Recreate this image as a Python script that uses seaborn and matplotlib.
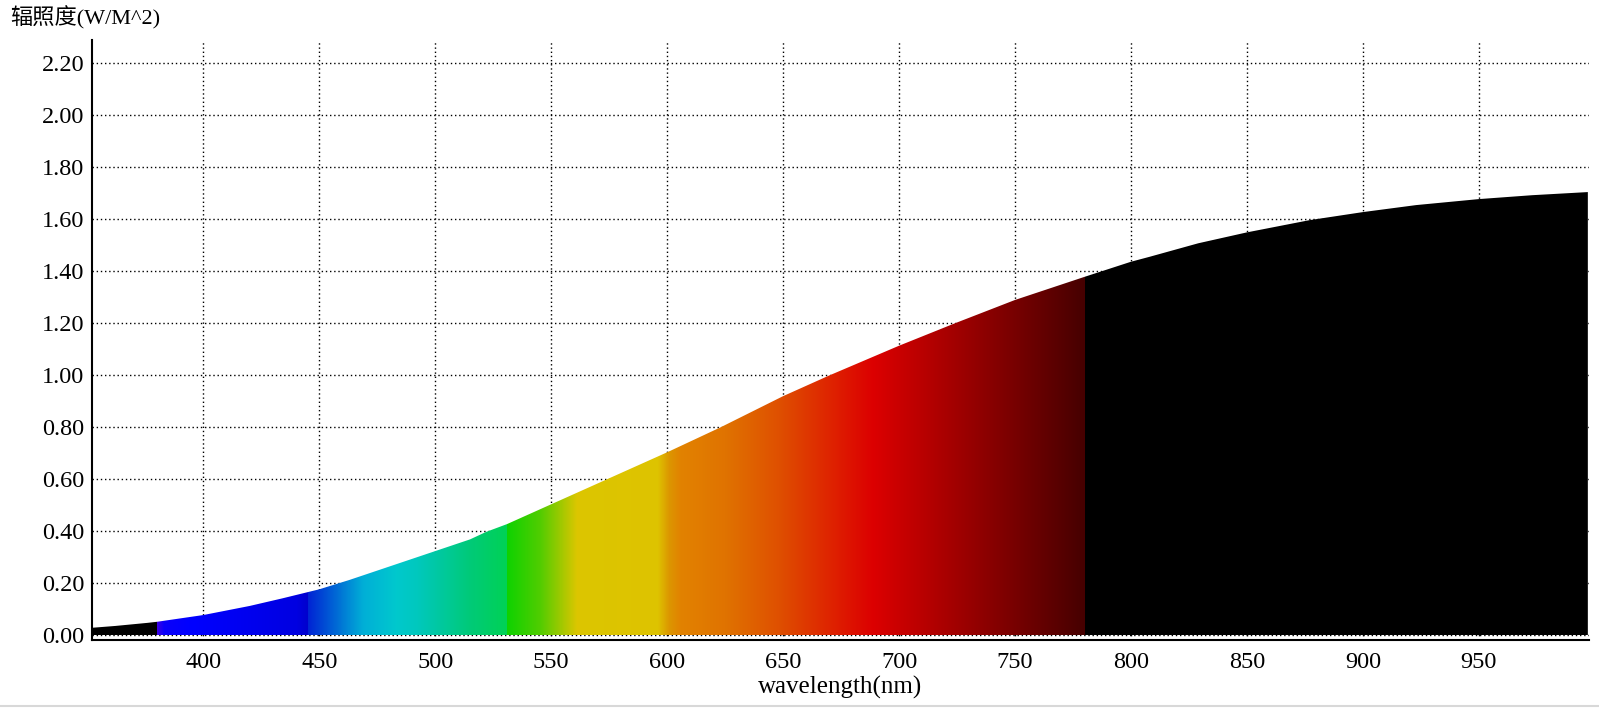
import numpy as np
import matplotlib
matplotlib.use("Agg")
import matplotlib.pyplot as plt
import seaborn as sns
from matplotlib.colors import LinearSegmentedColormap, Normalize
from matplotlib.lines import Line2D

# irradiance curve
wavelength = [352, 362, 376, 380, 400, 420, 434, 450, 463, 478, 492, 500, 515, 522, 531, 550, 574,
              600, 623, 650, 670, 700, 724, 750, 780, 800, 808, 829, 850, 877, 900, 923, 950, 973, 997]
irradiance = [0.029, 0.036, 0.048, 0.052, 0.078, 0.113, 0.142, 0.177, 0.213, 0.258, 0.300, 0.324,
              0.369, 0.398, 0.428, 0.504, 0.600, 0.704, 0.800, 0.920, 1.000, 1.114, 1.200, 1.290,
              1.379, 1.437, 1.456, 1.508, 1.550, 1.597, 1.628, 1.655, 1.678, 1.693, 1.705]

# spectrum colour stops (nm, rgb)
stop_nm = [352, 379.9, 380, 383, 395, 440, 444.9, 445, 469, 483, 492, 515, 530.9, 531, 545,
           561, 596, 601, 606, 625, 648, 674, 689, 780, 780.1, 997.5]
stop_rgb = [(0, 0, 0), (0, 0, 0), (60, 0, 230), (10, 0, 250), (0, 0, 255), (0, 0, 225),
            (0, 0, 205), (0, 35, 212), (0, 175, 215), (0, 200, 205), (0, 200, 190), (0, 202, 120),
            (0, 210, 85), (15, 210, 0), (80, 205, 0), (220, 198, 0), (222, 195, 0), (220, 150, 0),
            (226, 130, 0), (224, 115, 0), (223, 80, 0), (222, 28, 0), (220, 0, 0), (70, 0, 0),
            (0, 0, 0), (0, 0, 0)]

xticks = [400, 450, 500, 550, 600, 650, 700, 750, 800, 850, 900, 950]
yticks = [0.0, 0.2, 0.4, 0.6, 0.8, 1.0, 1.2, 1.4, 1.6, 1.8, 2.0, 2.2]
xmin, xmax = 352, 997.5
ymin, ymax = -0.018, 2.29

sns.set_style("white")
plt.rcParams['font.family'] = ['Liberation Serif', 'Noto Sans CJK SC', 'DejaVu Sans']

fig = plt.figure(figsize=(15.99, 7.08), dpi=100)
ax = fig.add_axes([92 / 1599, 68 / 708, (1589 - 92) / 1599, (640 - 40) / 708])

poly = ax.fill_between(wavelength, irradiance, 0, color='none', linewidth=0)

span = xmax - xmin
cmap = LinearSegmentedColormap.from_list(
    'spectrum', [((n - xmin) / span, tuple(c / 255 for c in rgb)) for n, rgb in zip(stop_nm, stop_rgb)],
    N=4096)
grid_x = np.linspace(xmin, xmax, 3000)
img = ax.imshow(grid_x[np.newaxis, :], extent=[xmin, xmax, 0, ymax], aspect='auto', origin='lower',
                cmap=cmap, norm=Normalize(xmin, xmax), interpolation='nearest', zorder=2)
img.set_clip_path(poly.get_paths()[0], transform=ax.transData)

ax.set_xlim(xmin, xmax)
ax.set_ylim(ymin, ymax)
ax.set_xticks(xticks)
ax.set_xticklabels([str(t) for t in xticks])
ax.set_yticks(yticks)
ax.set_yticklabels(['%.2f' % t for t in yticks])

ax.grid(True, color='black', linestyle=(0, (1, 2)), linewidth=1)
ax.set_axisbelow(True)
sns.despine(ax=ax)
for side in ['left', 'bottom']:
    ax.spines[side].set_color('black')
    ax.spines[side].set_linewidth(1.5)

ax.tick_params(axis='both', colors='black', labelsize=17.5, direction='out', width=1)
ax.tick_params(axis='x', length=3, pad=6)
ax.tick_params(axis='y', length=4.5, pad=1)

ax.set_xlabel('wavelength(nm)', fontsize=18, color='black', labelpad=2)
fig.text(10 / 1599, 1 - 18 / 708, '辐照度(W/M^2)', fontsize=16, color='black', ha='left', va='center')

fig.add_artist(Line2D([0, 1], [2 / 708, 2 / 708], color='#d8d8d8', linewidth=1.5))

plt.savefig('out.png', dpi=100)
